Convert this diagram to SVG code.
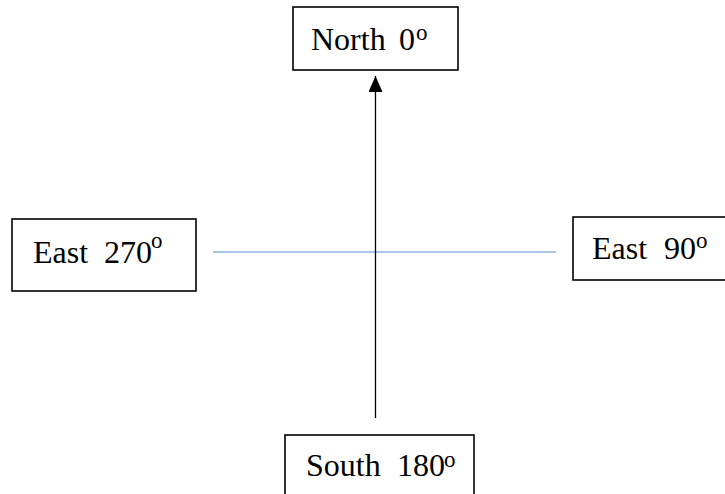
<svg xmlns="http://www.w3.org/2000/svg" width="725" height="494" viewBox="0 0 725 494">
  <style>
    .box { fill: #ffffff; stroke: #000000; stroke-width: 1.6; }
    .lbl { font-family: "Liberation Serif", "Times New Roman", serif; font-size: 32px; fill: #000000; }
    .sup { font-size: 23px; }
    .axis { stroke: #000000; stroke-width: 1.3; fill: none; }
    .cross { stroke: #8db3e2; stroke-width: 1.6; fill: none; }
  </style>
  <defs>
    <!-- filled triangular head, pointing along the path direction -->
    <marker id="arrow" viewBox="0 0 16 14" refX="16" refY="7" markerWidth="16" markerHeight="14" markerUnits="userSpaceOnUse" orient="auto">
      <path d="M0 0 L16 7 L0 14 Z" fill="#000000"/>
    </marker>
  </defs>

  <g id="connectors">
    <line class="cross" x1="213" y1="252" x2="556" y2="252"/>
    <line class="axis" x1="375.5" y1="418" x2="375.5" y2="76" marker-end="url(#arrow)"/>
  </g>

  <g id="north">
    <rect class="box" x="293" y="7" width="165" height="63"/>
    <text class="lbl" x="311" y="50">North</text>
    <text class="lbl" x="399" y="50">0</text>
    <text class="lbl sup" x="416" y="40">o</text>
  </g>

  <g id="west">
    <rect class="box" x="12" y="219" width="184" height="72"/>
    <text class="lbl" x="33" y="263">East</text>
    <text class="lbl" x="104" y="263">270</text>
    <text class="lbl sup" x="151" y="248">o</text>
  </g>

  <g id="east">
    <rect class="box" x="573" y="217" width="160" height="63"/>
    <text class="lbl" x="592" y="259">East</text>
    <text class="lbl" x="664" y="259">90</text>
    <text class="lbl sup" x="696" y="248">o</text>
  </g>

  <g id="south">
    <rect class="box" x="285" y="435" width="189" height="70"/>
    <text class="lbl" x="306" y="476">South</text>
    <text class="lbl" x="397" y="476">180</text>
    <text class="lbl sup" x="444" y="467">o</text>
  </g>
</svg>
